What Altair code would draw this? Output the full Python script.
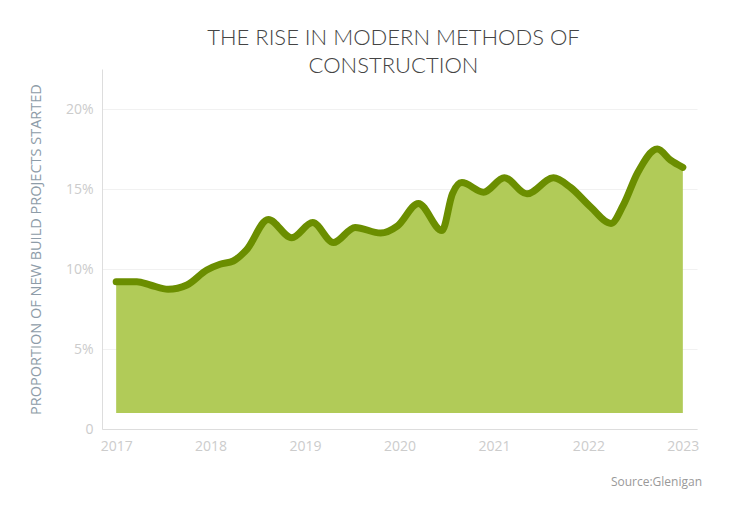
import altair as alt
import pandas as pd

# x is fractional year, share is % of new build starts
years = [
    2017.00, 2017.22, 2017.36, 2017.55, 2017.75, 2017.96, 2018.10, 2018.24,
    2018.38, 2018.61, 2018.86, 2019.08, 2019.30, 2019.53, 2019.80, 2019.98,
    2020.20, 2020.45, 2020.56, 2020.66, 2020.89, 2021.11, 2021.35,
    2021.63, 2021.81, 2022.02, 2022.24, 2022.37, 2022.52, 2022.73, 2022.87,
    2023.00,
]
share = [
    9.2, 9.2, 9.0, 8.73, 9.0, 9.94, 10.3, 10.5,
    11.2, 13.1, 11.95, 12.9, 11.65, 12.6, 12.25, 12.7,
    14.1, 12.4, 14.7, 15.4, 14.8, 15.7, 14.7,
    15.7, 15.1, 13.9, 12.85, 14.0, 16.0, 17.5, 16.8,
    16.35,
]
tick_years = [2017, 2018, 2019, 2020, 2021, 2022, 2023]
y_ticks = [0, 5, 10, 15, 20]

title_lines = ["THE RISE IN MODERN METHODS OF", "CONSTRUCTION"]
y_title = "PROPORTION OF NEW BUILD PROJECTS STARTED"
source = "Source:Glenigan"

df = pd.DataFrame({"year": years, "share": share})

x = alt.X(
    "year:Q",
    title=None,
    scale=alt.Scale(domain=[2016.85, 2023.15], nice=False, zero=False),
    axis=alt.Axis(values=tick_years, format="d", grid=False, ticks=False,
                  labelPadding=10, labelFontSize=14, labelColor="#cccccc",
                  labelFont="Open Sans", domainColor="#dddddd"),
)
y = alt.Y(
    "share:Q",
    title=y_title,
    scale=alt.Scale(domain=[0, 22.5], nice=False),
    axis=alt.Axis(values=y_ticks, ticks=False, labelPadding=9,
                  labelExpr="datum.value == 0 ? '0' : datum.value + '%'",
                  labelFontSize=14, labelColor="#cccccc", labelFont="Open Sans",
                  gridColor="#f1f1f1", domainColor="#dddddd",
                  titleFont="Open Sans", titleFontSize=14.5,
                  titleFontWeight="normal", titleColor="#8e9ca8",
                  titlePadding=22),
)

area = alt.Chart(df).mark_area(interpolate="monotone", color="#b1cb58").encode(
    x=x, y=y, y2=alt.datum(1)
)
line = alt.Chart(df).mark_line(
    interpolate="monotone", color="#6b8e00", strokeWidth=7, strokeCap="round"
).encode(x="year:Q", y="share:Q")

note = alt.Chart(pd.DataFrame({"t": [source]})).mark_text(
    align="right", baseline="alphabetic", font="Open Sans", fontSize=12,
    color="#999999"
).encode(text="t:N", x=alt.value(600), y=alt.value(417))

chart = (
    (area + line + note)
    .properties(
        width=595,
        height=360,
        background="white",
        autosize=alt.AutoSizeParams(type="none"),
        padding={"left": 94, "top": 61, "right": 20, "bottom": 60},
        title=alt.TitleParams(
            text=title_lines, fontSize=22, font="Lato",
            fontWeight=300, color="#444444", lineHeight=28,
            anchor="middle", offset=-9, dx=-6,
        ),
    )
    .configure_view(strokeWidth=0)
)

chart.save("out.html", embed_options={"renderer": "svg", "actions": False})
